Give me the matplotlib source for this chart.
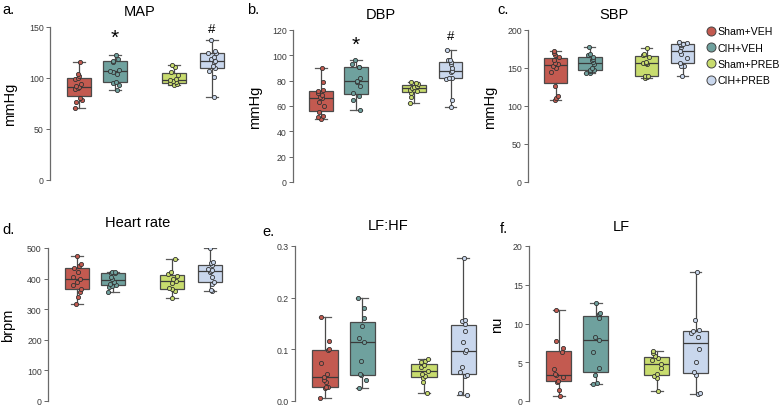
import numpy as np
import matplotlib
matplotlib.use("Agg")
import matplotlib.pyplot as plt
from matplotlib.lines import Line2D

plt.rcParams['font.family'] = ['Liberation Sans', 'DejaVu Sans']

# groups and colours
groups = ['Sham+VEH', 'CIH+VEH', 'Sham+PREB', 'CIH+PREB']
colors = ['#c35a50', '#6fa19e', '#c8dc6e', '#c9d7ed']
positions = [0, 1, 2.65, 3.7]

# values (one list per group)
map_vals = [
    [71, 76, 78, 80, 89, 90, 91, 92, 94, 99, 100, 102, 104, 116],
    [88, 93, 95, 96, 104, 106, 107, 108, 116, 117, 119, 123],
    [93, 94, 95, 96, 97, 98, 99, 103, 106, 111, 113],
    [81, 101, 107, 110, 112, 116, 117, 119, 121, 125, 125, 126, 137],
]
dbp_vals = [
    [50, 51, 52, 55, 60, 63, 66, 67, 69, 70, 72, 73, 79, 90],
    [57, 65, 68, 70, 76, 79, 80, 82, 91, 91, 93, 96],
    [62, 67, 70, 72, 73, 74, 75, 76, 77, 78, 79],
    [59, 65, 81, 82, 82, 87, 88, 90, 93, 95, 96, 96, 104],
]
sbp_vals = [
    [108, 110, 113, 126, 145, 150, 153, 155, 157, 160, 165, 167, 170, 172],
    [143, 144, 146, 147, 148, 150, 155, 158, 160, 162, 165, 167, 168, 178],
    [137, 138, 139, 140, 155, 156, 157, 158, 165, 167, 169, 176],
    [140, 152, 153, 157, 163, 168, 173, 178, 180, 181, 182, 183, 184],
]
hr_vals = [
    [316, 340, 355, 365, 380, 390, 400, 405, 420, 435, 440, 448, 473],
    [355, 374, 376, 378, 382, 390, 398, 405, 417, 418, 420, 422],
    [338, 360, 365, 368, 385, 392, 398, 410, 415, 420, 463],
    [358, 362, 382, 390, 405, 420, 425, 428, 430, 445, 450, 455, 500],
]
lfhf_vals = [
    [0.006, 0.025, 0.027, 0.028, 0.036, 0.040, 0.047, 0.052, 0.074, 0.098, 0.101, 0.117, 0.163],
    [0.025, 0.040, 0.050, 0.052, 0.078, 0.114, 0.122, 0.145, 0.160, 0.180, 0.200],
    [0.015, 0.036, 0.045, 0.048, 0.052, 0.058, 0.065, 0.070, 0.075, 0.078, 0.081],
    [0.011, 0.015, 0.048, 0.050, 0.056, 0.066, 0.095, 0.099, 0.115, 0.135, 0.150, 0.155, 0.156, 0.276],
]
lf_vals = [
    [0.6, 1.4, 2.5, 2.6, 3.1, 3.3, 3.5, 4.1, 6.3, 6.9, 7.8, 11.7],
    [2.2, 2.3, 3.3, 4.3, 6.3, 7.9, 8.2, 10.7, 11.2, 11.4, 12.7],
    [1.3, 3.0, 3.2, 3.5, 4.2, 4.8, 5.3, 5.5, 5.8, 6.2, 6.4],
    [0.9, 1.0, 3.3, 3.8, 5.0, 6.7, 8.2, 8.8, 9.0, 9.2, 10.4, 16.6],
]

W, H = 781, 406
fig = plt.figure(figsize=(W / 100, H / 100), dpi=100)
rng = np.random.default_rng(3)


def px_axes(left, top, right, bottom):
    return fig.add_axes([left / W, 1 - bottom / H, (right - left) / W, (bottom - top) / H])


def panel(box, data, ymax, yticks, title, letter, ylabel, title_y, letter_xy, ylabel_x,
          tick_fmt=None):
    left, top, right, bottom = box
    ax = px_axes(left, top, right, bottom)
    bp = ax.boxplot(data, positions=positions, widths=0.68, whis=(0, 100),
                    patch_artist=True, showfliers=False, capwidths=0.32,
                    medianprops=dict(color='#3a3a3a', lw=0.9),
                    boxprops=dict(edgecolor='#4a4a4a', lw=0.9),
                    whiskerprops=dict(color='#4a4a4a', lw=0.9),
                    capprops=dict(color='#5a5a5a', lw=0.9))
    for patch, c in zip(bp['boxes'], colors):
        patch.set_facecolor(c)
    for vals, p, c in zip(data, positions, colors):
        xs = p + rng.uniform(-0.13, 0.13, len(vals))
        ax.scatter(xs, vals, s=9, facecolor=c, edgecolor='#333333', lw=0.6, zorder=3)
    ax.set_xlim(-0.8, 4.2)
    ax.set_ylim(0, ymax)
    ax.set_yticks(yticks)
    if tick_fmt:
        ax.set_yticklabels([tick_fmt.format(t) for t in yticks])
    ax.set_xticks([])
    for s in ['top', 'right', 'bottom']:
        ax.spines[s].set_visible(False)
    ax.spines['left'].set_color('#6a6a6a')
    ax.spines['left'].set_linewidth(0.9)
    ax.tick_params(axis='y', length=3, width=0.7, color='#666666', labelsize=6.3,
                   labelcolor='#3a3a3a', pad=1.5)
    cx = (left + right) / 2
    fig.text(cx / W, 1 - title_y / H, title, ha='center', va='center', fontsize=10.5)
    fig.text(letter_xy[0] / W, 1 - letter_xy[1] / H, letter, ha='left', va='center', fontsize=10.5)
    if ylabel:
        ax.set_ylabel(ylabel, fontsize=10.5)
        ax.yaxis.set_label_coords((ylabel_x - left) / (right - left), 0.5)
    return ax


ax_a = panel((50, 28, 230, 181), map_vals, 150, [0, 50, 100, 150], 'MAP', 'a.', 'mmHg',
             12, (2, 10), 17)
ax_a.text(positions[1], 140, '*', ha='center', va='center', fontsize=15)
ax_a.text(positions[3], 148, '#', ha='center', va='center', fontsize=9.5)

ax_b = panel((293, 31, 468, 183), dbp_vals, 120, [0, 20, 40, 60, 80, 100, 120], 'DBP', 'b.',
             'mmHg', 15, (247, 10), 262)
ax_b.text(positions[1], 109, '*', ha='center', va='center', fontsize=15)
ax_b.text(positions[3], 115.5, '#', ha='center', va='center', fontsize=9.5)

ax_c = panel((528, 31, 700, 183), sbp_vals, 200, [0, 50, 100, 150, 200], 'SBP', 'c.',
             'mmHg', 15, (497, 10), 497)

ax_d = panel((48, 249, 228, 402), hr_vals, 500, [0, 100, 200, 300, 400, 500], 'Heart rate',
             'd.', 'brpm', 223, (2, 230), 15)

ax_e = panel((295, 247, 482, 402), lfhf_vals, 0.3, [0.0, 0.1, 0.2, 0.3], 'LF:HF', 'e.',
             None, 226, (262, 232), 0, tick_fmt='{:.1f}')

ax_f = panel((529, 247, 714, 402), lf_vals, 20, [0, 5, 10, 15, 20], 'LF', 'f.', 'nu',
             227, (500, 229), 504)

handles = [Line2D([], [], marker='o', ls='none', markersize=6.5, markerfacecolor=c,
                  markeredgecolor='#444444', markeredgewidth=0.7) for c in colors]
fig.legend(handles, groups, loc='upper left', bbox_to_anchor=(701 / W, 1 - 23 / H),
           frameon=False, fontsize=7.6, handletextpad=0.2, labelspacing=0.6,
           borderaxespad=0, handlelength=1.0)

fig.savefig('out.png', dpi=100)
